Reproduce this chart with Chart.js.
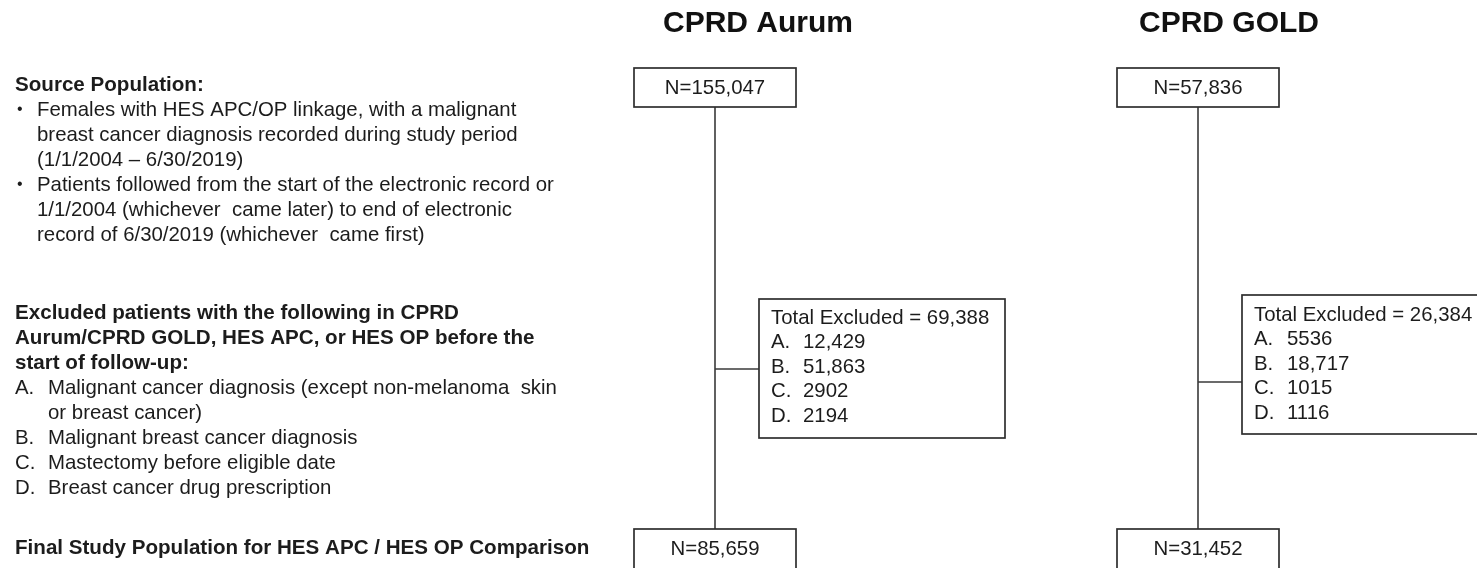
<!DOCTYPE html>
<html>
<head>
<meta charset="utf-8">
<title>CPRD Aurum / CPRD GOLD flow</title>
<script src="https://cdn.jsdelivr.net/npm/chart.js@4.4.1/dist/chart.umd.min.js"></script>
<style>
  html, body { margin: 0; padding: 0; background: #fff; }
  #flow { display: block; }
</style>
</head>
<body>
<canvas id="flow" width="1477" height="568"></canvas>
<script>
// Data
const cohorts = ["CPRD Aurum", "CPRD GOLD"];
const sourceN = [155047, 57836];
const excludedTotal = [69388, 26384];
const excludedA = [12429, 5536];
const excludedB = [51863, 18717];
const excludedC = [2902, 1015];
const excludedD = [2194, 1116];
const finalN = [85659, 31452];
const reasonLabels = ["A.", "B.", "C.", "D."];

const sourceHeading = "Source Population:";
const sourceBullets = [
  ["Females with HES APC/OP linkage, with a malignant",
   "breast cancer diagnosis recorded during study period",
   "(1/1/2004 \u2013 6/30/2019)"],
  ["Patients followed from the start of the electronic record or",
   "1/1/2004 (whichever  came later) to end of electronic",
   "record of 6/30/2019 (whichever  came first)"],
];
const excludedHeading = [
  "Excluded patients with the following in CPRD",
  "Aurum/CPRD GOLD, HES APC, or HES OP before the",
  "start of follow-up:",
];
const excludedReasons = [
  ["Malignant cancer diagnosis (except non-melanoma  skin", "or breast cancer)"],
  ["Malignant breast cancer diagnosis"],
  ["Mastectomy before eligible date"],
  ["Breast cancer drug prescription"],
];
const finalHeading = "Final Study Population for HES APC / HES OP Comparison";

// Layout (page units = pixels of the reference)
const W = 1477, H = 568;
const FONT = '"Liberation Sans", Arial, sans-serif';
const layout = {
  colX: [715, 1198],
  titleX: [758, 1229],
  titleY: 24,
  boxHalfW: 81,
  topBox: { top: 68, bottom: 107, textY: 88 },
  bottomBox: { top: 529, bottom: 569, textY: 549 },
  exclBox: [
    { left: 759, right: 1005, top: 299, bottom: 438, join: 369, textX: 771, valX: 803, textY: 318 },
    { left: 1242, right: 1495, top: 295, bottom: 434, join: 382, textX: 1254, valX: 1287, textY: 315 },
  ],
  lineStep: 24.5,
  leftX: 15,
  bulletX: 17,
  bulletTextX: 37,
  reasonTextX: 48,
  sourceY: 85,
  exclY: 313,
  finalY: 548,
  leftStep: 25,
};

const fmt = (n) => (n >= 10000 ? n.toLocaleString("en-US") : String(n));

// connector lines as datasets, placed through the chart scales
const connectorSets = [];
cohorts.forEach((name, i) => {
  const x = layout.colX[i];
  const eb = layout.exclBox[i];
  connectorSets.push({
    label: name + " flow",
    data: [{ x: x, y: layout.topBox.bottom }, { x: x, y: layout.bottomBox.top }],
  });
  connectorSets.push({
    label: name + " excluded",
    data: [{ x: x, y: eb.join }, { x: eb.left, y: eb.join }],
  });
});

const flowPlugin = {
  id: "flowBoxes",
  afterDatasetsDraw(chart) {
    const { ctx, scales } = chart;
    const px = (v) => scales.x.getPixelForValue(v);
    const py = (v) => scales.y.getPixelForValue(v);

    const box = (l, t, r, b) => {
      ctx.save();
      ctx.fillStyle = "#fff";
      ctx.fillRect(px(l), py(t), px(r) - px(l), py(b) - py(t));
      ctx.strokeStyle = "#2e2e2e";
      ctx.lineWidth = 1.7;
      ctx.strokeRect(px(l), py(t), px(r) - px(l), py(b) - py(t));
      ctx.restore();
    };
    const text = (s, x, y, font, align) => {
      ctx.font = font;
      ctx.textAlign = align || "left";
      ctx.fillText(s, px(x), py(y));
    };

    ctx.save();
    ctx.textBaseline = "middle";
    ctx.fillStyle = "#1c1c1c";

    // left description
    const reg = "20.4px " + FONT;
    const bold = "bold 20.6px " + FONT;
    let y = layout.sourceY;
    text(sourceHeading, layout.leftX, y, bold);
    sourceBullets.forEach((lines) => {
      lines.forEach((ln, k) => {
        y += layout.leftStep;
        if (k === 0) text("\u2022", layout.bulletX, y, "16px " + FONT);
        text(ln, layout.bulletTextX, y, reg);
      });
    });

    y = layout.exclY;
    excludedHeading.forEach((ln, k) => {
      if (k > 0) y += layout.leftStep;
      text(ln, layout.leftX, y, bold);
    });
    excludedReasons.forEach((lines, r) => {
      lines.forEach((ln, k) => {
        y += layout.leftStep;
        if (k === 0) text(reasonLabels[r], layout.leftX, y, reg);
        text(ln, layout.reasonTextX, y, reg);
      });
    });
    text(finalHeading, layout.leftX, layout.finalY, bold);

    // cohort columns
    cohorts.forEach((name, i) => {
      const cx = layout.colX[i];
      const hw = layout.boxHalfW;
      ctx.fillStyle = "#111";
      text(name, layout.titleX[i], layout.titleY, "bold 30px " + FONT, "center");

      box(cx - hw, layout.topBox.top, cx + hw, layout.topBox.bottom);
      ctx.fillStyle = "#1c1c1c";
      text("N=" + fmt(sourceN[i]), cx, layout.topBox.textY, reg, "center");

      const eb = layout.exclBox[i];
      box(eb.left, eb.top, eb.right, eb.bottom);
      ctx.fillStyle = "#1c1c1c";
      text("Total Excluded = " + fmt(excludedTotal[i]), eb.textX, eb.textY, reg);
      const vals = [excludedA[i], excludedB[i], excludedC[i], excludedD[i]];
      vals.forEach((v, k) => {
        const ly = eb.textY + layout.lineStep * (k + 1);
        text(reasonLabels[k], eb.textX, ly, reg);
        text(fmt(v), eb.valX, ly, reg);
      });

      box(cx - hw, layout.bottomBox.top, cx + hw, layout.bottomBox.bottom);
      ctx.fillStyle = "#1c1c1c";
      text("N=" + fmt(finalN[i]), cx, layout.bottomBox.textY, reg, "center");
    });
    ctx.restore();
  },
};

new Chart(document.getElementById("flow"), {
  type: "scatter",
  data: {
    datasets: connectorSets.map((d) => ({
      ...d,
      showLine: true,
      pointRadius: 0,
      borderColor: "#3a3a3a",
      borderWidth: 1.6,
      fill: false,
    })),
  },
  options: {
    responsive: false,
    animation: false,
    layout: { padding: 0 },
    scales: {
      x: { type: "linear", min: 0, max: W, display: false },
      y: { type: "linear", min: 0, max: H, reverse: true, display: false },
    },
    plugins: {
      legend: { display: false },
      tooltip: { enabled: false },
    },
  },
  plugins: [flowPlugin],
});
</script>
</body>
</html>
